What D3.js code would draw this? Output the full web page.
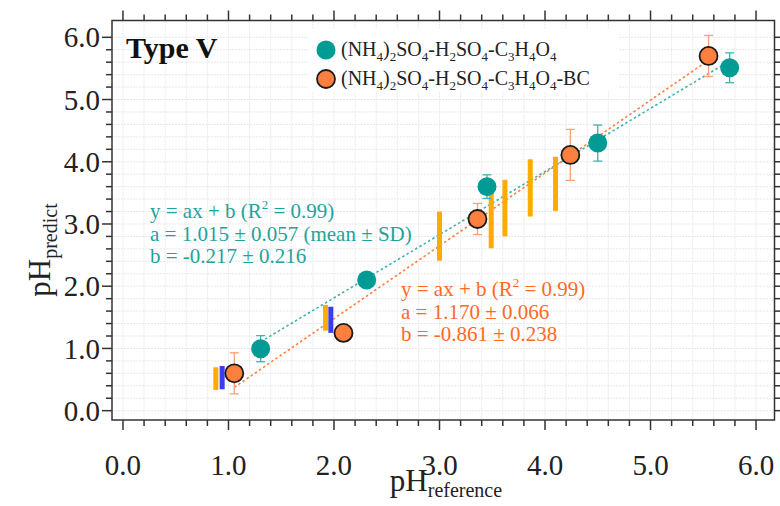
<!DOCTYPE html>
<html><head><meta charset="utf-8">
<script src="https://cdn.jsdelivr.net/npm/d3@7"></script>
<style>body{margin:0;background:#fff}svg{display:block}text{font-family:"Liberation Serif","Times New Roman",serif}</style>
</head><body><svg id="c" width="780" height="506"></svg>
<script>
// ---- data ----
const tealX   = [1.305, 2.31, 3.45, 4.50, 5.75];
const tealY   = [0.996, 2.10, 3.60, 4.30, 5.51];
const tealErr = [0.21, 0.0, 0.19, 0.29, 0.24];
const orgX    = [1.055, 2.09, 3.36, 4.24, 5.55];
const orgY    = [0.60, 1.25, 3.08, 4.11, 5.70];
const orgErr  = [0.33, 0.0, 0.25, 0.41, 0.33];
const goldX   = [0.88, 1.92, 3.00, 3.49, 3.62, 3.86, 4.10];
const goldLo  = [0.333, 1.286, 2.41, 2.61, 2.80, 3.12, 3.21];
const goldHi  = [0.697, 1.70, 3.20, 3.535, 3.71, 4.04, 4.08];
const blueX   = [0.94, 1.97];
const blueLo  = [0.344, 1.25];
const blueHi  = [0.718, 1.67];
const tealFit = {a: 1.015, b: -0.217};
const orgFit  = {a: 1.170, b: -0.861};
const tickVals = [0, 1, 2, 3, 4, 5, 6];
const tickLabels = ["0.0","1.0","2.0","3.0","4.0","5.0","6.0"];

const svg = d3.select("#c");
const L = 112, R = 774.5, T = 20.5, B = 420;
const x = d3.scaleLinear().domain([-0.104, 6.175]).range([L, R]);
const y = d3.scaleLinear().domain([-0.15, 6.27]).range([B, T]);

const TEAL = "#009b94", ORG = "#ff7f3f";
const minor = d3.range(0, 6.01, 0.2).map(v => +v.toFixed(1));

// grid
const g = svg.append("g");
minor.forEach(v => {
  g.append("line").attr("x1", x(v)).attr("x2", x(v)).attr("y1", T).attr("y2", B)
    .attr("stroke", "#e8e8e8").attr("stroke-width", 1).attr("stroke-dasharray", "2,1");
  g.append("line").attr("y1", y(v)).attr("y2", y(v)).attr("x1", L).attr("x2", R)
    .attr("stroke", "#e8e8e8").attr("stroke-width", 1).attr("stroke-dasharray", "2,1");
});

// legend background
svg.append("rect").attr("x", 308).attr("y", 29).attr("width", 310).attr("height", 62).attr("fill", "#fff");

// fit lines
function fitLine(xs, f, col) {
  const x0 = d3.min(xs), x1 = d3.max(xs);
  svg.append("line").attr("x1", x(x0)).attr("y1", y(f.a*x0+f.b))
    .attr("x2", x(x1)).attr("y2", y(f.a*x1+f.b))
    .attr("stroke", col).attr("stroke-width", 1.6).attr("stroke-dasharray", "2.5,2.5");
}
fitLine(tealX, tealFit, "#3db3ab");
fitLine(orgX, orgFit, "#ff7f3f");

// vertical range bars
goldX.forEach((v, i) => {
  svg.append("line").attr("x1", x(v)).attr("x2", x(v)).attr("y1", y(goldLo[i])).attr("y2", y(goldHi[i]))
    .attr("stroke", "#ffab00").attr("stroke-width", 5);
});
blueX.forEach((v, i) => {
  svg.append("line").attr("x1", x(v)).attr("x2", x(v)).attr("y1", y(blueLo[i])).attr("y2", y(blueHi[i]))
    .attr("stroke", "#3b3bf0").attr("stroke-width", 5);
});

// error bars
function errBars(xs, ys, es, col) {
  xs.forEach((v, i) => {
    if (!es[i]) return;
    const cx = x(v), y1 = y(ys[i]-es[i]), y2 = y(ys[i]+es[i]);
    svg.append("line").attr("x1", cx).attr("x2", cx).attr("y1", y1).attr("y2", y2).attr("stroke", col).attr("stroke-width", 1.3);
    [y1, y2].forEach(yy => svg.append("line").attr("x1", cx-4.5).attr("x2", cx+4.5).attr("y1", yy).attr("y2", yy).attr("stroke", col).attr("stroke-width", 1.3));
  });
}
errBars(tealX, tealY, tealErr, "#3fb3ac");
errBars(orgX, orgY, orgErr, "#f7a07c");

// markers
tealX.forEach((v, i) => svg.append("circle").attr("cx", x(v)).attr("cy", y(tealY[i])).attr("r", 9.5).attr("fill", TEAL));
orgX.forEach((v, i) => svg.append("circle").attr("cx", x(v)).attr("cy", y(orgY[i])).attr("r", 9).attr("fill", ORG).attr("stroke", "#1a1a1a").attr("stroke-width", 1.8));

// frame
svg.append("rect").attr("x", L).attr("y", T).attr("width", R-L).attr("height", B-T)
  .attr("fill", "none").attr("stroke", "#333").attr("stroke-width", 1.5);

// ticks on four sides
const ax = svg.append("g").attr("stroke", "#333").attr("stroke-width", 1.5);
minor.forEach(v => {
  const major = Math.abs(v - Math.round(v)) < 1e-6;
  const len = major ? 10 : 6;
  ax.append("line").attr("x1", x(v)).attr("x2", x(v)).attr("y1", B).attr("y2", B+len);
  ax.append("line").attr("x1", x(v)).attr("x2", x(v)).attr("y1", T).attr("y2", T-len);
  ax.append("line").attr("y1", y(v)).attr("y2", y(v)).attr("x1", L).attr("x2", L-len);
  ax.append("line").attr("y1", y(v)).attr("y2", y(v)).attr("x1", R).attr("x2", R+len);
});
tickVals.forEach((v, i) => {
  svg.append("text").attr("x", x(v)).attr("y", 475).attr("text-anchor", "middle")
    .attr("font-size", 29).attr("fill", "#222").text(tickLabels[i]);
  svg.append("text").attr("x", 100).attr("y", y(v)).attr("dy", "0.35em").attr("text-anchor", "end")
    .attr("font-size", 29).attr("fill", "#222").text(tickLabels[i]);
});

// axis titles
const xt = svg.append("text").attr("x", 446).attr("y", 491).attr("text-anchor", "middle").attr("font-size", 31).attr("fill", "#222");
xt.append("tspan").text("pH");
xt.append("tspan").attr("font-size", 20).attr("dy", 6).text("reference");
const yt = svg.append("text").attr("transform", "translate(50,250) rotate(-90)").attr("text-anchor", "middle").attr("font-size", 31).attr("fill", "#222");
yt.append("tspan").text("pH");
yt.append("tspan").attr("font-size", 20).attr("dy", 7).text("predict");

// Type V
svg.append("text").attr("x", 126).attr("y", 58).attr("font-size", 30).attr("font-weight", "bold").attr("fill", "#111").text("Type V");

// legend
function chem(sel, parts, size) {
  parts.forEach(p => {
    if (p[1]) sel.append("tspan").attr("font-size", size*0.65).attr("dy", size*0.25).text(p[0]);
    else sel.append("tspan").attr("font-size", size).attr("dy", p[2] || 0).text(p[0]);
  });
}
const legParts = [["(NH"],["4",1],[")",0,-5],["2",1],["SO",0,-5],["4",1],["-H",0,-5],["2",1],["SO",0,-5],["4",1],["-C",0,-5],["3",1],["H",0,-5],["4",1],["O",0,-5],["4",1]];
const legendRows = [
  {cy: 50, col: TEAL, stroke: null, extra: ""},
  {cy: 79, col: ORG, stroke: "#1a1a1a", extra: "-BC"}
];
legendRows.forEach(r => {
  const c = svg.append("circle").attr("cx", 326).attr("cy", r.cy).attr("r", 9.5).attr("fill", r.col);
  if (r.stroke) c.attr("r", 9).attr("stroke", r.stroke).attr("stroke-width", 1.8);
  const t = svg.append("text").attr("x", 341).attr("y", r.cy + 6).attr("font-size", 20).attr("fill", "#222");
  chem(t, legParts, 20);
  if (r.extra) t.append("tspan").attr("dy", -5).text(r.extra);
});

// annotations
function annot(x0, y0, lines, col) {
  lines.forEach((ln, i) => {
    const t = svg.append("text").attr("x", x0).attr("y", y0 + i*22.5).attr("font-size", 21).attr("fill", col);
    if (i === 0) {
      t.append("tspan").text("y = ax + b (R");
      t.append("tspan").attr("font-size", 13).attr("dy", -9).text("2");
      t.append("tspan").attr("dy", 9).text(" = " + ln);
    } else t.text(ln);
  });
}
annot(150, 218, ["0.99)", "a = 1.015 \u00b1 0.057 (mean \u00b1 SD)", "b = -0.217 \u00b1 0.216"], "#1fa39b");
annot(401, 296, ["0.99)", "a = 1.170 \u00b1 0.066", "b = -0.861 \u00b1 0.238"], "#ff6a1f");
</script></body></html>
